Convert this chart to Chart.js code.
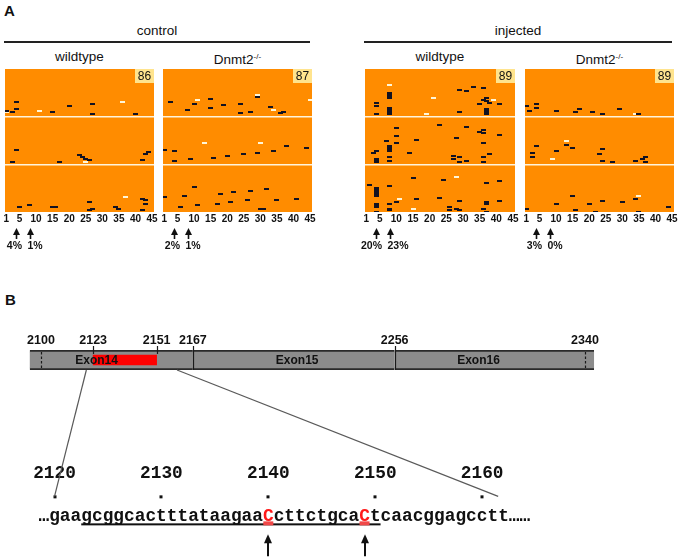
<!DOCTYPE html>
<html>
<head>
<meta charset="utf-8">
<script src="https://cdn.jsdelivr.net/npm/chart.js@4.4.1/dist/chart.umd.min.js"></script>
<style>
  body { margin: 0; background: #fff; }
  #page { position: relative; width: 680px; height: 560px; overflow: hidden;
          font-family: "Liberation Sans", Arial, sans-serif; color: #111; }
  .abs { position: absolute; }
  .lbl { position: absolute; transform: translateX(-50%); white-space: nowrap; font-size: 13.5px; line-height: 16px; }
  .rule { position: absolute; height: 2px; background: #222; }
  .letter { position: absolute; font-weight: bold; font-size: 15px; }
  sup { font-size: 8px; vertical-align: 5px; }
</style>
</head>
<body>
<div id="page">
  <div class="letter" style="left:4px;top:2px">A</div>
  <div class="letter" style="left:5px;top:291px">B</div>
</div>
<script>
// ---- panel A: bisulfite reads, CpG position x read number ----
const cpgTicks = [1, 5, 10, 15, 20, 25, 30, 35, 40, 45];
const groupNames = ['control', 'injected'];
const panelNames = ['wildtype', 'Dnmt2', 'wildtype', 'Dnmt2'];
const panelSup = ['', '-/-', '', '-/-'];
const readCounts = [86, 87, 89, 89];
const arrowSites = [4, 8];
const pctSite4 = [4, 2, 20, 3];
const pctSite8 = [1, 1, 23, 0];

// [cpg position, read]
const ctrlWtDark = [[4,20],[4,24],[1,25],[3,26],[15,26],[20,22],[27,21],[27,27],[40,27],
  [4,49],[3,56],[17,56],[23,52],[24,53],[25,54],[26,55],[42,55],[43,51],[44,50],
  [5,83],[8,82],[15,83],[16,83],[26,80],[26,85],[27,84],[34,83],[35,84],[42,78],[43,79],[43,81],[42,85]];
const ctrlWtLight = [[1,26],[11,25],[36,20],[25,56],[37,77]];

const ctrlKoDark = [[3,20],[8,25],[10,21],[15,18],[15,24],[19,22],[24,21],[24,27],[27,26],[29,17],[33,23],[36,27],[37,26],
  [1,49],[4,50],[4,56],[9,55],[16,54],[20,53],[25,52],[29,51],[34,50],[38,47],[44,48],
  [1,78],[6,84],[7,77],[10,72],[11,83],[17,82],[18,76],[21,81],[22,75],[26,80],[27,74],[30,85],[31,85],[32,73],[35,80],[41,79]];
const ctrlKoLight = [[11,19],[29,16],[34,25],[45,19],[13,45],[30,45]];

const injWtDark = [[8,15],[8,16],[8,17],[8,18],[8,24],[8,25],[8,26],[8,27],[8,28],[4,21],[4,23],[4,28],
  [29,13],[31,14],[33,11],[36,12],[29,27],[35,22],[36,19],[37,18],[37,20],[38,21],[37,25],[37,26],[37,27],[37,28],[41,22],
  [10,37],[10,42],[10,46],[7,45],[8,48],[8,49],[8,50],[8,51],[8,55],[8,57],[3,52],[4,51],[4,56],[4,57],[4,58],
  [14,52],[16,44],[23,35],[28,43],[31,36],[27,54],[27,56],[29,55],[29,58],[31,57],[35,39],[36,38],[36,40],[36,46],[36,55],[36,58],[38,53],[41,41],
  [2,72],[4,74],[4,75],[4,76],[4,77],[4,78],[4,79],[4,84],[4,85],[4,86],[4,89],[8,73],[8,84],[8,87],[8,88],[10,83],
  [15,68],[16,81],[23,80],[24,69],[26,86],[26,88],[28,87],[29,88],[29,82],[36,87],[37,71],[37,83],[37,84],[37,89],[41,70],[41,82]];
const injWtLight = [[8,10],[21,18],[19,28],[39,19],[11,81],[15,87],[28,67]];

const injKoDark = [[1,23],[2,26],[4,22],[4,24],[10,26],[16,27],[17,25],[21,27],[24,28],[29,25],[35,28],
  [4,48],[3,52],[3,55],[10,51],[13,47],[15,49],[23,53],[24,50],[24,57],[27,58],[34,57],[36,56],[37,55],[37,58],
  [1,87],[10,84],[15,79],[16,88],[20,84],[22,89],[24,82],[30,83],[34,81],[35,89],[44,86]];
const injKoLight = [[34,28],[9,56],[13,45],[35,79]];

// ---- panel B: exon map and target sequence ----
const exonNames = ['Exon14', 'Exon15', 'Exon16'];
const exonStarts = [2095, 2167, 2256];
const exonEnds = [2167, 2256, 2344];
const exonLabelAt = [2124.5, 2213, 2293];
const exonTicks = [2100, 2123, 2151, 2167, 2256, 2340];
const dashedMarks = [2100, 2340];
const boundaryMarks = [2167, 2256];
const targetRegion = [2123, 2151];

const seqTicks = [2120, 2130, 2140, 2150, 2160];
const seqStart = 2120;
const seqBases = 'gaagcggcactttataagaaCcttctgcaCtcaacggagcctt';
const editedSites = [2140, 2149];
const guideRegion = [2123, 2150];
const connectTop = [2120, 2160];
const connectBottom = [2120, 2161.5];

const page = document.getElementById('page');
const ORANGE = '#ff8c00';
const DARK = '#121222';
const LIGHT = '#fff6d8';

function dotImage(color) {
  const c = document.createElement('canvas');
  c.width = 5; c.height = 2;
  const g = c.getContext('2d');
  g.fillStyle = color;
  g.fillRect(0, 0, 5, 2);
  return c;
}
const darkDot = dotImage(DARK);
const lightDot = dotImage(LIGHT);

function addLabel(html, x, y, extra) {
  const d = document.createElement('div');
  d.className = 'lbl';
  d.style.left = x + 'px';
  d.style.top = y + 'px';
  if (extra) d.style.cssText += extra;
  d.innerHTML = html;
  page.appendChild(d);
  return d;
}

const panelBoxes = [[5, 154], [163, 312], [365, 515], [525, 674]];
const panelData = [[ctrlWtDark, ctrlWtLight], [ctrlKoDark, ctrlKoLight], [injWtDark, injWtLight], [injKoDark, injKoLight]];

// group headers
for (let g = 0; g < 2; g++) {
  const left = panelBoxes[g * 2][0] - 1;
  const right = panelBoxes[g * 2 + 1][1] - 2;
  addLabel(groupNames[g], (left + right) / 2, 23);
  const r = document.createElement('div');
  r.className = 'rule';
  r.style.left = left + 'px';
  r.style.width = (right - left) + 'px';
  r.style.top = '41px';
  page.appendChild(r);
}

const panelDecor = {
  id: 'panelDecor',
  beforeDraw(chart) {
    const a = chart.chartArea;
    const ctx = chart.ctx;
    ctx.save();
    ctx.fillStyle = ORANGE;
    ctx.fillRect(a.left, a.top, a.right - a.left, a.bottom - a.top);
    ctx.restore();
  },
  afterDraw(chart, args, opts) {
    const a = chart.chartArea;
    const ctx = chart.ctx;
    const xs = chart.scales.x;
    ctx.save();
    // read count badge
    ctx.fillStyle = '#ffe48e';
    ctx.fillRect(a.right - 19, a.top, 19, 14);
    ctx.fillStyle = '#111';
    ctx.font = '12px "Liberation Sans", Arial';
    ctx.textAlign = 'center';
    ctx.textBaseline = 'middle';
    ctx.fillText(String(opts.count), a.right - 9.5, a.top + 7.5);
    // arrows + percentages
    ctx.strokeStyle = '#111';
    ctx.lineWidth = 1.6;
    ctx.font = 'bold 10.5px "Liberation Sans", Arial';
    ctx.textBaseline = 'middle';
    arrowSites.forEach((site, k) => {
      const x = Math.round(xs.getPixelForValue(site)) + 0.5;
      const tip = a.bottom + 16;
      ctx.beginPath();
      ctx.moveTo(x, tip + 5);
      ctx.lineTo(x, a.bottom + 27);
      ctx.stroke();
      ctx.beginPath();
      ctx.moveTo(x, tip);
      ctx.lineTo(x - 3.5, tip + 7);
      ctx.lineTo(x + 3.5, tip + 7);
      ctx.closePath();
      ctx.fill();
      const txt = opts.pcts[k] + '%';
      if (k === 0) { ctx.textAlign = 'right'; ctx.fillText(txt, x + 5.5, a.bottom + 34); }
      else { ctx.textAlign = 'left'; ctx.fillText(txt, x - 3, a.bottom + 34); }
    });
    ctx.restore();
  }
};

function toXY(arr) { return arr.map(p => ({ x: p[0], y: p[1] })); }

panelBoxes.forEach(([L, R], i) => {
  addLabel(panelNames[i] + (panelSup[i] ? '<sup>' + panelSup[i] + '</sup>' : ''), (L + R) / 2, 49);
  const cv = document.createElement('canvas');
  cv.width = R - L + 20;
  cv.height = 196;
  cv.className = 'abs';
  cv.style.left = (L - 10) + 'px';
  cv.style.top = '64px';
  page.appendChild(cv);
  const n = readCounts[i];
  new Chart(cv, {
    type: 'scatter',
    data: {
      datasets: [
        { data: toXY(panelData[i][0]), pointStyle: darkDot, pointRadius: 2 },
        { data: toXY(panelData[i][1]), pointStyle: lightDot, pointRadius: 2 }
      ]
    },
    options: {
      responsive: false,
      animation: false,
      devicePixelRatio: 1,
      layout: { padding: { left: 10, right: 10, top: 5, bottom: 34 } },
      plugins: {
        legend: { display: false },
        tooltip: { enabled: false },
        panelDecor: { count: n, pcts: [pctSite4[i], pctSite8[i]] }
      },
      scales: {
        x: {
          type: 'linear', min: 0.6, max: 45.6, position: 'bottom',
          afterBuildTicks: ax => { ax.ticks = cpgTicks.map(v => ({ value: v })); },
          ticks: { font: { family: '"Liberation Sans", Arial', size: 10, weight: 'bold' }, color: '#111',
                   padding: 1, autoSkip: false, maxRotation: 0, callback: v => String(v) },
          grid: { display: false, drawTicks: false },
          border: { display: false }
        },
        y: {
          type: 'linear', min: 0, max: n, reverse: true,
          afterBuildTicks: ax => { ax.ticks = [n / 3, 2 * n / 3].map(v => ({ value: v })); },
          ticks: { display: false },
          grid: { color: '#fff4dc', lineWidth: 1.5, drawTicks: false },
          border: { display: false }
        }
      }
    },
    plugins: [panelDecor]
  });
});

// ---- exon chart ----
const exonCanvas = document.createElement('canvas');
exonCanvas.width = 680; exonCanvas.height = 39;
exonCanvas.className = 'abs';
exonCanvas.style.left = '0px'; exonCanvas.style.top = '331px';
page.appendChild(exonCanvas);

const exonDecor = {
  id: 'exonDecor',
  afterDatasetsDraw(chart) {
    const a = chart.chartArea;
    const xs = chart.scales.x;
    const ctx = chart.ctx;
    ctx.save();
    ctx.strokeStyle = '#1a1a1a';
    ctx.lineWidth = 1.2;
    dashedMarks.forEach(v => {
      const x = Math.round(xs.getPixelForValue(v)) + 0.5;
      ctx.setLineDash([2.5, 2]);
      ctx.beginPath(); ctx.moveTo(x, a.top + 2); ctx.lineTo(x, a.bottom - 2); ctx.stroke();
    });
    ctx.setLineDash([]);
    boundaryMarks.forEach(v => {
      const x = Math.round(xs.getPixelForValue(v)) + 0.5;
      ctx.beginPath(); ctx.moveTo(x, a.top - 4); ctx.lineTo(x, a.bottom); ctx.stroke();
    });
    targetRegion.forEach(v => {
      const x = Math.round(xs.getPixelForValue(v)) + 0.5;
      ctx.beginPath(); ctx.moveTo(x, a.top - 4); ctx.lineTo(x, a.top + 4); ctx.stroke();
    });
    ctx.fillStyle = '#111';
    ctx.font = 'bold 12px "Liberation Sans", Arial';
    ctx.textAlign = 'center';
    ctx.textBaseline = 'middle';
    exonNames.forEach((name, k) => {
      ctx.fillText(name, xs.getPixelForValue(exonLabelAt[k]), (a.top + a.bottom) / 2 + 0.5);
    });
    ctx.restore();
  }
};

const exonChart = new Chart(exonCanvas, {
  type: 'bar',
  data: {
    labels: ['gene'],
    datasets: [
      { data: [{ x: targetRegion, y: 'gene' }], backgroundColor: '#ff0000', barThickness: 10, grouped: false },
      { data: exonStarts.map((s, k) => ({ x: [s, exonEnds[k]], y: 'gene' })),
        backgroundColor: '#8c8c8c', borderColor: '#2a2a2a',
        borderWidth: { top: 2, bottom: 2, left: 0, right: 0 }, borderSkipped: false,
        barPercentage: 1, categoryPercentage: 1, grouped: false }
    ]
  },
  options: {
    indexAxis: 'y',
    responsive: false,
    animation: false,
    devicePixelRatio: 1,
    plugins: { legend: { display: false }, tooltip: { enabled: false } },
    scales: {
      x: {
        type: 'linear', min: 2081.9, max: 2381.9, position: 'top',
        afterBuildTicks: ax => { ax.ticks = exonTicks.map(v => ({ value: v })); },
        ticks: { font: { family: '"Liberation Sans", Arial', size: 12.5, weight: 'bold' }, color: '#111',
                 padding: 2, autoSkip: false, maxRotation: 0, callback: v => String(v) },
        grid: { display: false, drawTicks: false },
        border: { display: false }
      },
      y: { display: false }
    }
  },
  plugins: [exonDecor]
});

// ---- sequence chart ----
const seqTop = 461;
const seqCanvas = document.createElement('canvas');
seqCanvas.width = 680; seqCanvas.height = 560 - seqTop;
seqCanvas.className = 'abs';
seqCanvas.style.left = '0px'; seqCanvas.style.top = seqTop + 'px';
page.appendChild(seqCanvas);

const MONO = '"Liberation Mono", "DejaVu Sans Mono", monospace';
const seqDecor = {
  id: 'seqDecor',
  afterDraw(chart) {
    const a = chart.chartArea;
    const xs = chart.scales.x;
    const ctx = chart.ctx;
    const top = a.top;
    ctx.save();
    ctx.fillStyle = '#111';
    seqTicks.forEach(v => {
      const x = xs.getPixelForValue(v);
      ctx.fillRect(Math.round(x) - 1.5, top + 9, 3, 3);
    });
    // underline of target region
    ctx.fillRect(xs.getPixelForValue(guideRegion[0] - 0.5), top + 37, xs.getPixelForValue(guideRegion[1] + 0.5) - xs.getPixelForValue(guideRegion[0] - 0.5), 2);
    ctx.fillStyle = '#f04848';
    editedSites.forEach(v => {
      const x = xs.getPixelForValue(v);
      ctx.fillRect(x - 5, top + 35, 10, 4);
    });
    ctx.font = 'bold 17.8px ' + MONO;
    ctx.textAlign = 'center';
    ctx.textBaseline = 'alphabetic';
    ctx.fillStyle = '#111';
    ctx.fillText('\u2026', xs.getPixelForValue(seqStart - 1), top + 35);
    for (let k = 0; k < seqBases.length; k++) {
      const v = seqStart + k;
      ctx.fillStyle = editedSites.includes(v) ? '#ff1a1a' : '#111';
      ctx.fillText(seqBases[k], xs.getPixelForValue(v), top + 35);
    }
    ctx.fillStyle = '#111';
    const end = seqStart + seqBases.length;
    ctx.fillText('\u2026', xs.getPixelForValue(end), top + 35);
    ctx.fillText('\u2026', xs.getPixelForValue(end + 1), top + 35);
    // arrows to edited cytosines
    ctx.strokeStyle = '#111';
    ctx.lineWidth = 2;
    editedSites.forEach(v => {
      const x = Math.round(xs.getPixelForValue(v));
      const tip = top + 48;
      ctx.beginPath(); ctx.moveTo(x, tip + 6); ctx.lineTo(x, top + 70); ctx.stroke();
      ctx.beginPath(); ctx.moveTo(x, tip); ctx.lineTo(x - 4, tip + 9); ctx.lineTo(x + 4, tip + 9); ctx.closePath(); ctx.fill();
    });
    ctx.restore();
  }
};

const seqChart = new Chart(seqCanvas, {
  type: 'scatter',
  data: { datasets: [] },
  options: {
    responsive: false,
    animation: false,
    devicePixelRatio: 1,
    plugins: { legend: { display: false }, tooltip: { enabled: false } },
    scales: {
      x: {
        type: 'linear', min: 2114.9, max: 2178.51, position: 'top',
        afterBuildTicks: ax => { ax.ticks = seqTicks.map(v => ({ value: v })); },
        ticks: { font: { family: MONO, size: 17.8, weight: 'bold' }, color: '#111',
                 padding: 2, autoSkip: false, maxRotation: 0, callback: v => String(v) },
        grid: { display: false, drawTicks: false },
        border: { display: false }
      },
      y: { display: false, min: 0, max: 1 }
    }
  },
  plugins: [seqDecor]
});

// ---- zoom connectors between exon map and sequence ----
const over = document.createElement('canvas');
over.width = 680; over.height = 560;
over.className = 'abs';
over.style.left = '0px'; over.style.top = '0px';
over.style.pointerEvents = 'none';
page.appendChild(over);
const octx = over.getContext('2d');
octx.strokeStyle = '#5a5a5a';
octx.lineWidth = 1.2;
connectTop.forEach((v, k) => {
  const x1 = exonChart.scales.x.getPixelForValue(v);
  const y1 = 331 + exonChart.chartArea.bottom;
  const x2 = seqChart.scales.x.getPixelForValue(connectBottom[k]);
  const y2 = seqTop + seqChart.chartArea.top + 10;
  octx.beginPath(); octx.moveTo(x1, y1); octx.lineTo(x2, y2); octx.stroke();
});
</script>
</body>
</html>
